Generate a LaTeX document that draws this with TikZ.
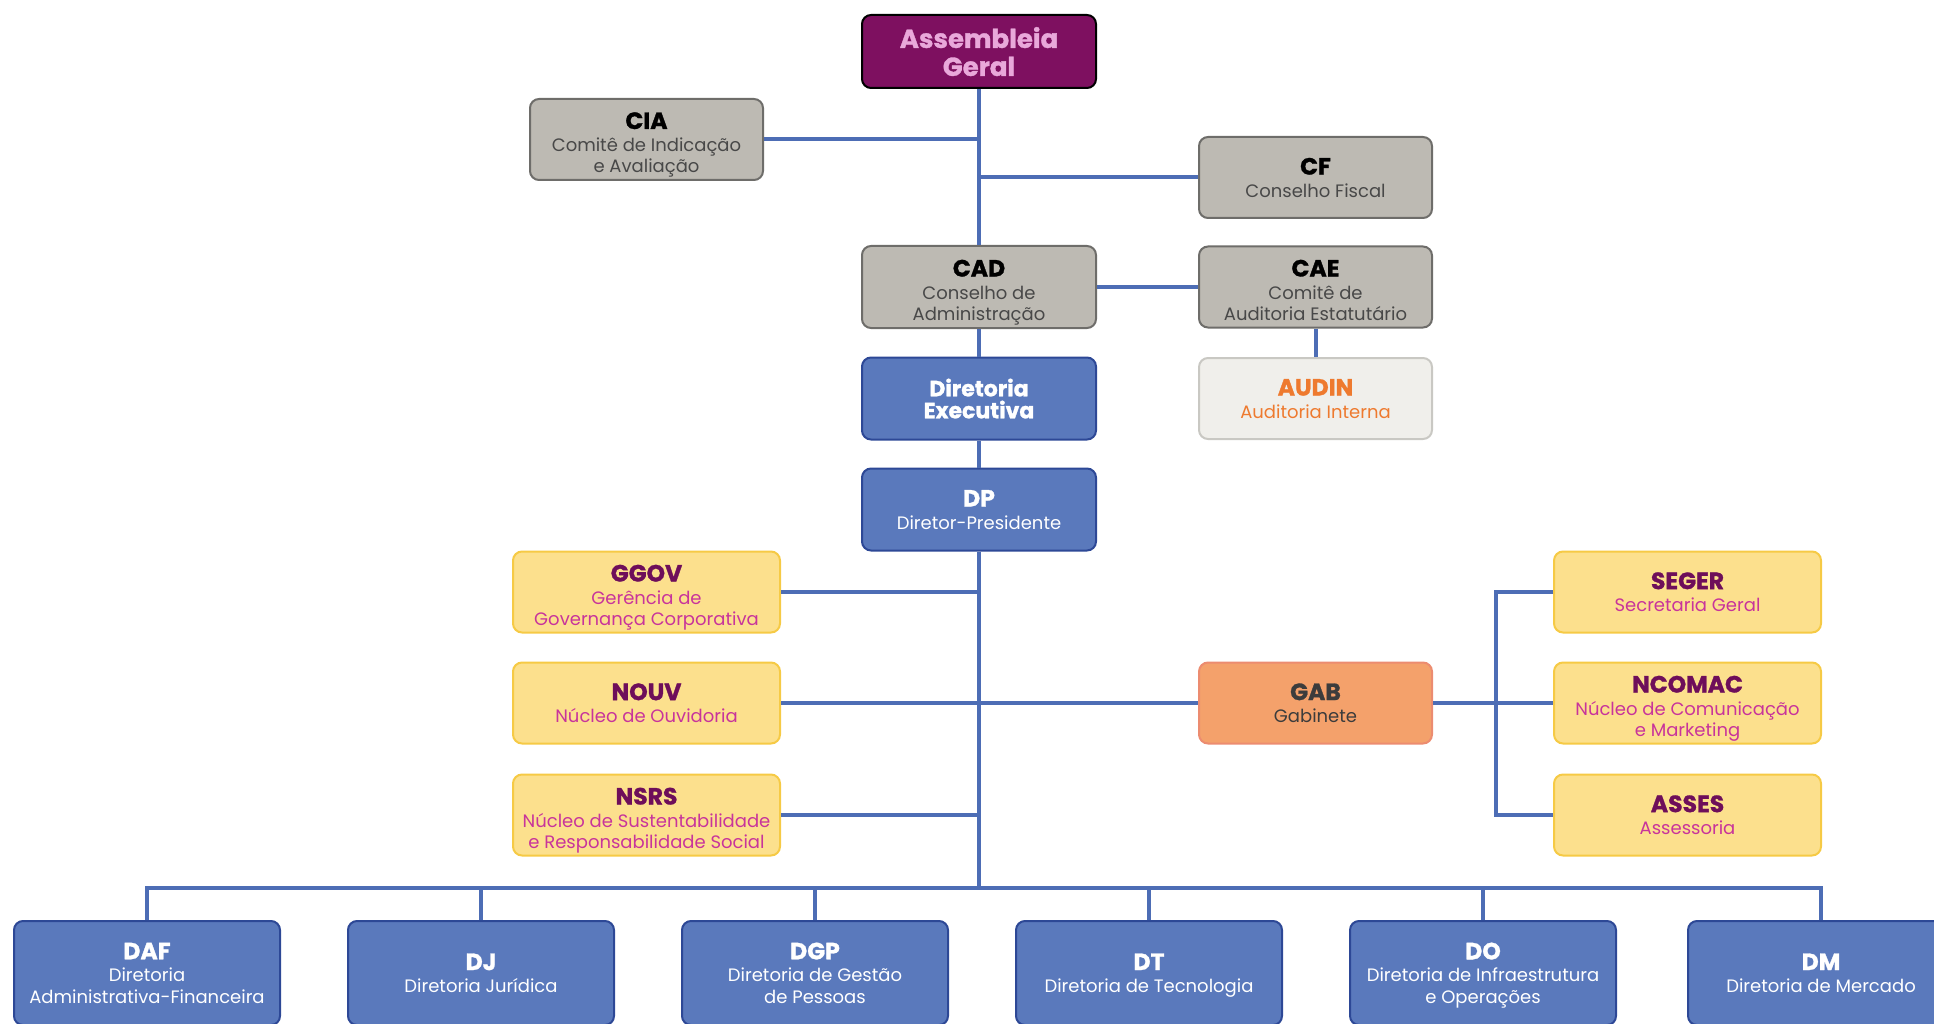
\documentclass[tikz,border=0pt]{standalone}
\usepackage{fontspec}
\setmainfont{Poppins}[BoldFeatures={FakeBold=1.2}]
\usetikzlibrary{calc}
\definecolor{lineblue}{HTML}{4D6DB5}
\definecolor{agfill}{HTML}{7E1060}
\definecolor{agtext}{HTML}{E9A8DA}
\definecolor{grayfill}{HTML}{BDBAB3}
\definecolor{graydraw}{HTML}{6E6D6A}
\definecolor{graysub}{HTML}{484848}
\definecolor{audfill}{HTML}{F0EFEB}
\definecolor{auddraw}{HTML}{C9C8C3}
\definecolor{audtext}{HTML}{EE7A2F}
\definecolor{bluefill}{HTML}{5A79BC}
\definecolor{bluedraw}{HTML}{2D4896}
\definecolor{yelfill}{HTML}{FCE08D}
\definecolor{yeldraw}{HTML}{F6CA45}
\definecolor{yeltitle}{HTML}{6E0E5A}
\definecolor{yelsub}{HTML}{C8349B}
\definecolor{gabfill}{HTML}{F4A16B}
\definecolor{gabdraw}{HTML}{EC8C70}
\definecolor{gabtext}{HTML}{3C3C3C}
\newcommand\hd[1]{{\fontsize{23.5}{24}\selectfont\bfseries\color{tc}#1}}
\newcommand\hdx[1]{\rule{0pt}{23pt}\hd{#1}}
\tikzset{
  box/.style={rectangle, rounded corners=9pt, line width=2pt, align=center,
    minimum width=233pt, minimum height=81pt, inner sep=2pt, text depth=0pt,
    font=\fontsize{18}{21.5}\selectfont},
  graybox/.style={box, fill=grayfill, draw=graydraw, text=graysub,
    execute at begin node={\colorlet{tc}{black}}},
  audbox/.style={box, fill=audfill, draw=auddraw, text=audtext,
    execute at begin node={\colorlet{tc}{audtext}}},
  bluebox/.style={box, fill=bluefill, draw=bluedraw, text=white,
    execute at begin node={\colorlet{tc}{white}}},
  yelbox/.style={box, fill=yelfill, draw=yeldraw, text=yelsub, minimum width=267pt,
    execute at begin node={\colorlet{tc}{yeltitle}}},
  gabbox/.style={box, fill=gabfill, draw=gabdraw, text=gabtext,
    execute at begin node={\colorlet{tc}{gabtext}}},
  dirbox/.style={bluebox, minimum width=266pt, minimum height=104pt},
  conn/.style={draw=lineblue, line width=4pt}
}
\begin{document}
\begin{tikzpicture}[x=1pt, y=-1pt]
\useasboundingbox (0,0) rectangle (1934,1024);
% top chain
\node[box, fill=agfill, draw=black, text=agtext, minimum width=234pt, minimum height=73pt,
  font=\fontsize{26}{28}\selectfont\bfseries] (AG) at (979,51.5) {Assembleia\\Geral};
\node[graybox] (CIA) at (646.5,139.5) {\hdx{CIA}\\[1pt]Comitê de Indicação\\e Avaliação};
\node[graybox] (CF) at (1315.5,177.5) {\hd{CF}\\[1pt]Conselho Fiscal};
\node[graybox, minimum width=234pt, minimum height=82pt] (CAD) at (979,287) {\hdx{CAD}\\[1pt]Conselho de\\Administração};
\node[graybox] (CAE) at (1315.5,287) {\hdx{CAE}\\[1pt]Comitê de\\Auditoria Estatutário};
\node[bluebox, minimum width=234pt, minimum height=82pt, font=\fontsize{22}{22}\selectfont\bfseries] (DE) at (979,398.5) {Diretoria\\Executiva};
\node[audbox] (AUD) at (1315.5,398.5) {\hd{AUDIN}\\[1pt]Auditoria Interna};
\node[bluebox, minimum width=234pt, minimum height=82pt] (DP) at (979,509.5) {\hd{DP}\\[1pt]Diretor-Presidente};
% staff left
\node[yelbox] (GGOV) at (646.5,592) {\hdx{GGOV}\\[1pt]Gerência de\\Governança Corporativa};
\node[yelbox] (NOUV) at (646.5,703) {\hd{NOUV}\\[1pt]Núcleo de Ouvidoria};
\node[yelbox] (NSRS) at (646.5,815) {\hdx{NSRS}\\[1pt]Núcleo de Sustentabilidade\\e Responsabilidade Social};
% gabinete
\node[gabbox] (GAB) at (1315.5,703) {\hd{GAB}\\[1pt]Gabinete};
\node[yelbox] (SEGER) at (1687.5,592) {\hd{SEGER}\\[1pt]Secretaria Geral};
\node[yelbox] (NCOMAC) at (1687.5,703) {\hdx{NCOMAC}\\[1pt]Núcleo de Comunicação\\e Marketing};
\node[yelbox] (ASSES) at (1687.5,815) {\hd{ASSES}\\[1pt]Assessoria};
% directorates
\node[dirbox] (DAF) at (147,973) {\hd{DAF}\\[1pt]Diretoria\\Administrativa-Financeira};
\node[dirbox] (DJ) at (481,973) {\hd{DJ}\\[1pt]Diretoria Jurídica};
\node[dirbox] (DGP) at (815,973) {\hd{DGP}\\[1pt]Diretoria de Gestão\\de Pessoas};
\node[dirbox] (DT) at (1149,973) {\hd{DT}\\[1pt]Diretoria de Tecnologia};
\node[dirbox] (DO) at (1483,973) {\hd{DO}\\[1pt]Diretoria de Infraestrutura\\e Operações};
\node[dirbox] (DM) at (1821,973) {\hd{DM}\\[1pt]Diretoria de Mercado};
\coordinate (bus) at (979,888);
\coordinate (bk) at (1496,0);
% connectors
\draw[conn] (AG.south) -- (CAD.north);
\draw[conn] (CAD.south) -- (DE.north);
\draw[conn] (DE.south) -- (DP.north);
\draw[conn] (DP.south) -- (bus);
\draw[conn] (CIA.east) -- (CIA.east -| AG.south);
\draw[conn] (CF.west) -- (CF.west -| AG.south);
\draw[conn] (CAD.east) -- (CAE.west);
\draw[conn] (CAE.south) -- (AUD.north);
\draw[conn] (GGOV.east) -- (GGOV.east -| DP.south);
\draw[conn] (NOUV.east) -- (GAB.west);
\draw[conn] (NSRS.east) -- (NSRS.east -| DP.south);
\draw[conn] (GAB.east) -- (NCOMAC.west);
\draw[conn] (SEGER.west) -- (SEGER.west -| bk) -- (ASSES.west -| bk) -- (ASSES.west);
\draw[conn] (DAF.north) -- (DAF.north |- bus) -- (DM.north |- bus) -- (DM.north);
\draw[conn] (DJ.north) -- (DJ.north |- bus);
\draw[conn] (DGP.north) -- (DGP.north |- bus);
\draw[conn] (DT.north) -- (DT.north |- bus);
\draw[conn] (DO.north) -- (DO.north |- bus);
\end{tikzpicture}
\end{document}
